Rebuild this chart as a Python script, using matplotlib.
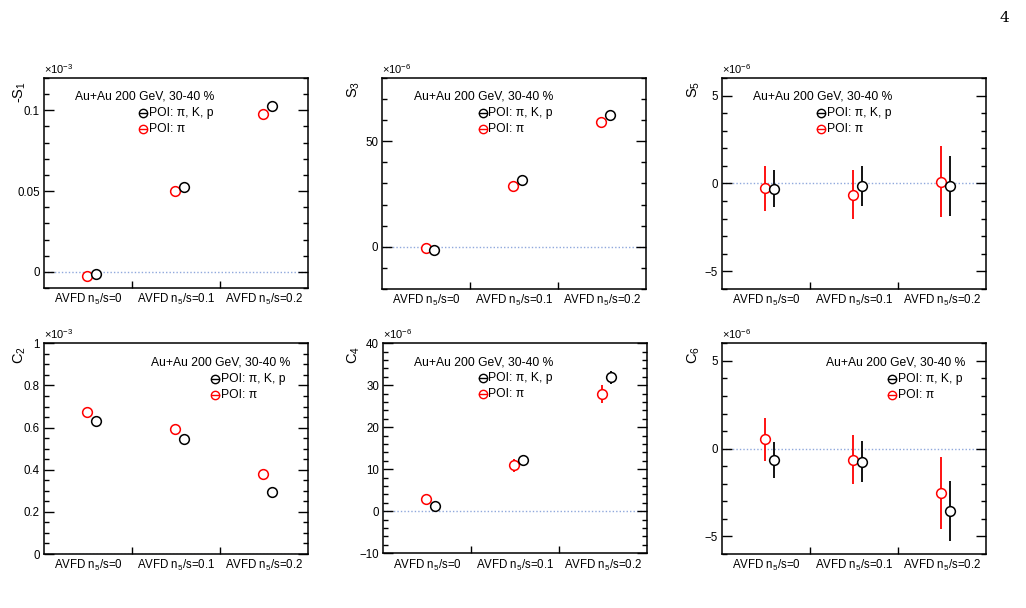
import numpy as np
import matplotlib
matplotlib.use('Agg')
import matplotlib.pyplot as plt
from matplotlib.ticker import MultipleLocator, FuncFormatter

plt.rcParams['font.family'] = ['Liberation Sans', 'DejaVu Sans']
plt.rcParams['mathtext.fontset'] = 'custom'
plt.rcParams['mathtext.rm'] = 'Liberation Sans'
plt.rcParams['mathtext.it'] = 'Liberation Sans:italic'
plt.rcParams['axes.unicode_minus'] = True

# x categories (one bin each)
categories = ['AVFD n$_{5}$/s=0', 'AVFD n$_{5}$/s=0.1', 'AVFD n$_{5}$/s=0.2']

# -S1 (x1e-3)
s1_all = [-0.0014, 0.0523, 0.1026]
s1_all_err = [0.0006, 0.0006, 0.0006]
s1_pi = [-0.0025, 0.0499, 0.0980]
s1_pi_err = [0.0007, 0.0007, 0.0007]
# S3 (x1e-6)
s3_all = [-1.4, 31.6, 62.6]
s3_all_err = [0.6, 0.6, 0.7]
s3_pi = [-0.5, 28.6, 59.2]
s3_pi_err = [0.7, 0.7, 0.9]
# S5 (x1e-6)
s5_all = [-0.30, -0.13, -0.13]
s5_all_err = [1.05, 1.15, 1.70]
s5_pi = [-0.26, -0.63, 0.10]
s5_pi_err = [1.28, 1.40, 2.03]
# C2 (x1e-3)
c2_all = [0.633, 0.545, 0.294]
c2_all_err = [0.004, 0.004, 0.004]
c2_pi = [0.675, 0.595, 0.381]
c2_pi_err = [0.005, 0.005, 0.005]
# C4 (x1e-6)
c4_all = [1.2, 12.2, 31.9]
c4_all_err = [0.8, 1.1, 1.6]
c4_pi = [2.95, 10.9, 27.95]
c4_pi_err = [1.2, 1.5, 2.1]
# C6 (x1e-6)
c6_all = [-0.65, -0.74, -3.55]
c6_all_err = [1.04, 1.15, 1.70]
c6_pi = [0.53, -0.63, -2.54]
c6_pi_err = [1.23, 1.39, 2.05]

panels = [
    dict(rect=[0.0429, 0.5263, 0.2573, 0.3454], ylab='-S$_{1}$', scale='$\\times$10$^{-3}$',
         ylim=(-0.01, 0.12), major=0.05, minor=0.01, all=(s1_all, s1_all_err), pi=(s1_pi, s1_pi_err),
         tx=0.117, mx=0.375, labx=-0.093),
    dict(rect=[0.3728, 0.5247, 0.2568, 0.347], ylab='S$_{3}$', scale='$\\times$10$^{-6}$',
         ylim=(-20, 80), major=50, minor=10, all=(s3_all, s3_all_err), pi=(s3_pi, s3_pi_err),
         tx=0.12, mx=0.38, labx=-0.11),
    dict(rect=[0.7037, 0.5247, 0.2573, 0.347], ylab='S$_{5}$', scale='$\\times$10$^{-6}$',
         ylim=(-6, 6), major=5, minor=1, all=(s5_all, s5_all_err), pi=(s5_pi, s5_pi_err),
         tx=0.117, mx=0.374, labx=-0.105),
    dict(rect=[0.0429, 0.0888, 0.2573, 0.3465], ylab='C$_{2}$', scale='$\\times$10$^{-3}$',
         ylim=(0, 1), major=0.2, minor=0.05, all=(c2_all, c2_all_err), pi=(c2_pi, c2_pi_err),
         tx=0.404, mx=0.648, labx=-0.093),
    dict(rect=[0.3736, 0.0900, 0.2567, 0.3454], ylab='C$_{4}$', scale='$\\times$10$^{-6}$',
         ylim=(-10, 40), major=10, minor=2, all=(c4_all, c4_all_err), pi=(c4_pi, c4_pi_err),
         tx=0.117, mx=0.377, labx=-0.112),
    dict(rect=[0.7037, 0.0888, 0.2573, 0.3465], ylab='C$_{6}$', scale='$\\times$10$^{-6}$',
         ylim=(-6, 6), major=5, minor=1, all=(c6_all, c6_all_err), pi=(c6_pi, c6_pi_err),
         tx=0.394, mx=0.643, labx=-0.105),
]

fig = plt.figure(figsize=(10.26, 6.08), dpi=100)

x = np.arange(len(categories))
for p in panels:
    ax = fig.add_axes(p['rect'])
    ax.set_xlim(0, 3)
    ax.set_ylim(*p['ylim'])
    ax.axhline(0, color='#8fa8dc', lw=1.0, ls=(0, (1, 1.5)), zorder=1)

    ya, ea = p['pi']
    ax.errorbar(x + 0.49, ya, yerr=ea, fmt='o', color='red', mfc='white', ms=7, mew=1.1,
                elinewidth=1.3, capsize=0, zorder=3)
    ya, ea = p['all']
    ax.errorbar(x + 0.59, ya, yerr=ea, fmt='o', color='black', mfc='white', ms=7, mew=1.1,
                elinewidth=1.3, capsize=0, zorder=3)

    # x axis: bin edges as ticks, labels at bin centres
    ax.set_xticks([1, 2])
    ax.set_xticklabels([])
    ax.set_xticks(x + 0.5, minor=True)
    ax.set_xticklabels(categories, minor=True, fontsize=8.3)
    ax.tick_params(axis='x', which='major', direction='in', length=5, width=1, top=False)
    ax.tick_params(axis='x', which='minor', length=0, pad=3)

    ax.yaxis.set_major_locator(MultipleLocator(p['major']))
    ax.yaxis.set_minor_locator(MultipleLocator(p['minor']))
    ax.yaxis.set_major_formatter(FuncFormatter(lambda v, pos: ('%g' % round(v, 6)).replace('-', '\u2212')))
    ax.tick_params(axis='y', which='major', direction='in', length=7, width=1, right=True, labelsize=8.3, pad=3)
    ax.tick_params(axis='y', which='minor', direction='in', length=3.5, width=1, right=True)
    for s in ax.spines.values():
        s.set_linewidth(1.1)

    ax.text(0.0, 1.01, p['scale'], transform=ax.transAxes, fontsize=8, ha='left', va='bottom')
    ax.text(p['labx'], 0.985, p['ylab'], transform=ax.transAxes, fontsize=10.5, rotation=90,
            ha='center', va='top')

    # legend-like box
    ax.text(p['tx'], 0.91, 'Au+Au 200 GeV, 30-40 %', transform=ax.transAxes, fontsize=8.7,
            ha='left', va='center')
    for yy, col, lab in [(0.833, 'black', 'POI: \u03c0, K, p'), (0.757, 'red', 'POI: \u03c0')]:
        ax.plot([p['mx'] - 0.013, p['mx'] + 0.013], [yy, yy], color=col, lw=1.0,
                transform=ax.transAxes, clip_on=False)
        ax.plot([p['mx']], [yy], marker='o', ms=6, mfc='none', mec=col, mew=1.0,
                transform=ax.transAxes, clip_on=False)
        ax.text(p['mx'] + 0.022, yy, lab, transform=ax.transAxes, fontsize=8.7, ha='left', va='center')

fig.text(0.984, 0.982, '4', fontsize=11, family='DejaVu Serif', ha='right', va='top')

fig.savefig('out.png', dpi=100)
